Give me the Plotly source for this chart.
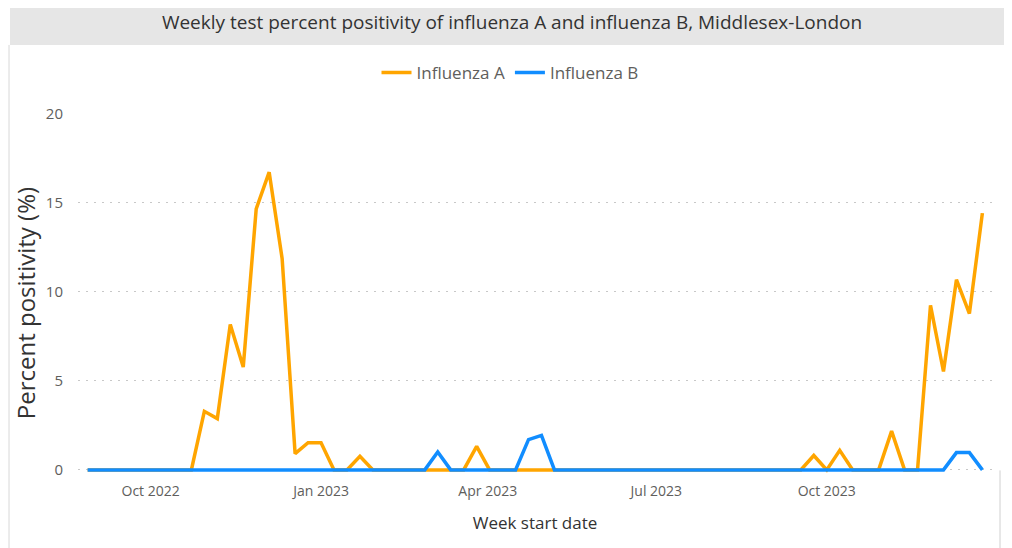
import datetime as dt
import plotly.graph_objects as go

# ---- data ----
start_week = dt.date(2022, 8, 28)
n_weeks = 70
week_dates = [start_week + dt.timedelta(days=7 * i) for i in range(n_weeks)]

flu_a = [0, 0, 0, 0, 0, 0, 0, 0, 0, 3.29,
         2.88, 8.17, 5.78, 14.67, 16.73, 11.87, 0.91, 1.53, 1.53, 0,
         0, 0.76, 0, 0, 0, 0, 0, 0, 0, 0,
         1.32, 0, 0, 0, 0, 0, 0, 0, 0, 0,
         0, 0, 0, 0, 0, 0, 0, 0, 0, 0,
         0, 0, 0, 0, 0, 0, 0.81, 0, 1.10, 0,
         0, 0, 2.18, 0, 0, 9.24, 5.53, 10.69, 8.78, 14.43]
flu_b = [0] * 27 + [1.0] + [0] * 6 + [1.70, 1.94] + [0] * 31 + [0.97, 0.97, 0]

series_names = ["Influenza A", "Influenza B"]
title_text = "Weekly test percent positivity of influenza A and influenza B, Middlesex-London"
y_title = "Percent positivity (%)"
x_title = "Week start date"
y_ticks = [0, 5, 10, 15, 20]

# ---- layout geometry (page coords of the 1012x548 view; page has 8px body margin) ----
OFF = 8
W, H = 1012 - OFF, 548 - OFF
plot_left, plot_right = 78, 992
plot_top, plot_bottom = 114, 476.6
ml = plot_left - OFF
mt = plot_top - OFF
mr = W - (plot_right - OFF)
mb = H - (plot_bottom - OFF)
plot_w = plot_right - plot_left
plot_h = plot_bottom - plot_top
y_lo, y_hi = -0.4, 20
pad_days = 5.2
x_lo = dt.datetime.combine(week_dates[0], dt.time()) - dt.timedelta(days=pad_days)
x_hi = dt.datetime.combine(week_dates[-1], dt.time()) + dt.timedelta(days=pad_days)

def px_to_paper_x(px):
    return (px - plot_left) / plot_w

def py_to_paper_y(py):
    return 1 - (py - plot_top) / plot_h

fig = go.Figure()
fig.add_trace(go.Scatter(x=week_dates, y=flu_a, mode="lines", name=series_names[0],
                         line=dict(color="#FFA500", width=3.5)))
fig.add_trace(go.Scatter(x=week_dates, y=flu_b, mode="lines", name=series_names[1],
                         line=dict(color="#118DFF", width=3.5)))

fig.update_layout(
    width=W, height=H,
    margin=dict(l=ml, r=mr, t=mt, b=mb, autoexpand=False),
    plot_bgcolor="white", paper_bgcolor="white",
    font=dict(family="Open Sans, sans-serif", color="#605E5C"),
    title=dict(text=title_text, x=(512 - OFF) / W, xanchor="center",
               y=1 - (22 - OFF) / H, yanchor="middle",
               font=dict(size=19, color="#333333", family="Open Sans, sans-serif")),
    legend=dict(orientation="h", x=px_to_paper_x(510), xanchor="center",
                y=py_to_paper_y(73), yanchor="middle",
                font=dict(size=17, color="#605E5C"),
                bgcolor="rgba(0,0,0,0)"),
    showlegend=True,
    annotations=[
        dict(text=y_title, textangle=-90, xref="paper", yref="paper",
             x=px_to_paper_x(25), y=py_to_paper_y(303), xanchor="center", yanchor="middle",
             showarrow=False, font=dict(size=24, color="#333333")),
    ],
    shapes=[
        dict(type="rect", xref="paper", yref="paper",
             x0=px_to_paper_x(10), x1=px_to_paper_x(1020),
             y0=py_to_paper_y(45), y1=py_to_paper_y(0),
             fillcolor="#E6E6E6", line=dict(width=0), layer="below"),
        dict(type="line", xref="paper", yref="paper",
             x0=px_to_paper_x(9), x1=px_to_paper_x(9),
             y0=py_to_paper_y(45), y1=py_to_paper_y(548),
             line=dict(color="#D8D8D8", width=1)),
        dict(type="line", xref="paper", yref="paper",
             x0=px_to_paper_x(1000), x1=px_to_paper_x(1000),
             y0=py_to_paper_y(470), y1=py_to_paper_y(548),
             line=dict(color="#D0D0D0", width=1)),
    ],
)

fig.update_xaxes(
    range=[x_lo, x_hi], type="date",
    tick0="2022-10-01", dtick="M3", tickformat="%b %Y",
    showgrid=False, zeroline=False, showline=False,
    ticks="", tickfont=dict(size=14, color="#605E5C"), ticklabelstandoff=4,
    title=dict(text=x_title, font=dict(size=17, color="#333333"), standoff=18),
)
fig.update_yaxes(
    range=[y_lo, y_hi], tickvals=y_ticks,
    showgrid=True, gridcolor="#C8C8C8", griddash="2px,6px", gridwidth=1,
    zeroline=False, showline=False, ticks="",
    tickfont=dict(size=15, color="#605E5C"), ticklabelstandoff=14,
)

fig.write_html("out.html")
